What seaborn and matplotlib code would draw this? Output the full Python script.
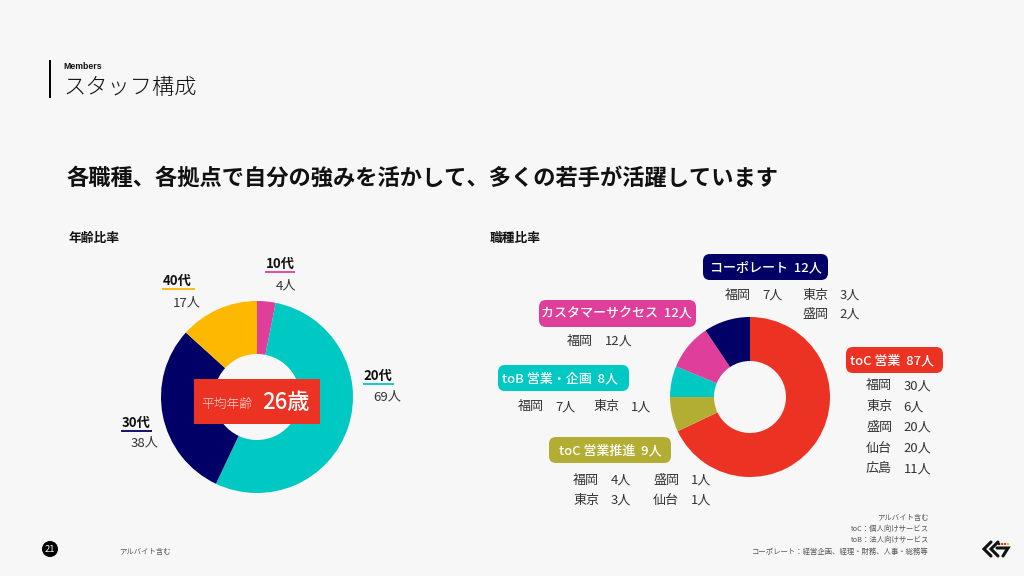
import matplotlib
matplotlib.use("Agg")
import matplotlib.pyplot as plt
from matplotlib.patches import FancyBboxPatch, Rectangle, Circle
import seaborn as sns

# -------------data-------------
age_labels = ['10代', '20代', '30代', '40代']
age_counts = [4, 69, 38, 17]
age_colors = ['#DF3E9B', '#00C8C2', '#000066', '#FDB900']

job_labels = ['toC 営業', 'toC 営業推進', 'toB 営業・企画', 'カスタマーサクセス', 'コーポレート']
job_counts = [87, 9, 8, 12, 12]
job_colors = ['#EC3323', '#B2AE34', '#00C8C2', '#DF3E9B', '#000066']

average_age = '26歳'

BG = '#F7F7F7'
TXT = '#333333'

sns.set_theme(style='white')
plt.rcParams['font.family'] = ['Noto Sans CJK JP', 'DejaVu Sans']

fig = plt.figure(figsize=(10.24, 5.76), dpi=100, facecolor=BG)

# overlay in pixel coords of the slide
bg = fig.add_axes([0, 0, 1, 1], zorder=3)
bg.set(xlim=(0, 1024), ylim=(576, 0))
bg.axis('off')


def donut(cx, cy, r, hole, values, cols):
    # axes placed so that the pie fills it exactly
    ax = fig.add_axes([(cx - r) / 1024, 1 - (cy + r) / 576, 2 * r / 1024, 2 * r / 576], zorder=1)
    ax.pie(values, colors=sns.color_palette(cols), startangle=90, counterclock=False, radius=1,
           wedgeprops=dict(width=1 - hole / r, linewidth=0))
    ax.set(xlim=(-1, 1), ylim=(-1, 1))
    return ax


def txt(x, y, s, size=9.4, color=TXT, weight='normal', ha='left', **kw):
    # CJK glyphs sit high with va=center, push down a bit
    bg.text(x, y + size * 0.15, s, fontsize=size, color=color, fontweight=weight, ha=ha, va='center', **kw)


def badge(x0, x1, y0, y1, col, label, count, shift=0):
    bg.add_patch(FancyBboxPatch((x0 + 7, y0 + 7), x1 - x0 - 14, y1 - y0 - 14,
                                boxstyle='round,pad=7,rounding_size=7', fc=col, ec='none'))
    txt((x0 + x1) / 2 + shift, (y0 + y1) / 2 - 1, label + '  ' + str(count) + '人', size=9.4, color='white',
        weight='medium', ha='center')


# -------------header-------------
bg.add_patch(Rectangle((49, 60), 2, 38, fc='black', ec='none'))
txt(63, 65.5, 'Members', size=6.3, color='#111111', weight='bold', family=['Liberation Sans', 'DejaVu Sans'])
txt(63, 86, 'スタッフ構成', size=16, color='#111111', weight='light')
txt(66, 176, '各職種、各拠点で自分の強みを活かして、多くの若手が活躍しています', size=16, color='#111111', weight='bold')
txt(69, 237, '年齢比率', size=9.2, color='#111111', weight='bold')
txt(490, 237, '職種比率', size=9.2, color='#111111', weight='bold')

# -------------left donut-------------
donut(257, 397, 96, 43, age_counts, age_colors)
bg.add_patch(Rectangle((194, 379), 126, 45, fc=job_colors[0], ec='none'))
txt(201, 403, '平均年齢', size=9.2, color='#F9D5CF', weight='light')
txt(262, 400, average_age, size=16, color='white', weight='medium')

# label x, label y, underline from, underline to, count right edge, count y
age_pos = [(280, 262, 265, 295, 296, 284), (378, 374, 363, 394, 401, 395),
           (136, 421, 121, 152, 159, 441), (177, 279, 162, 195, 201, 301)]
for lab, n, c, (x, y, u0, u1, xn, yn) in zip(age_labels, age_counts, age_colors, age_pos):
    txt(x, y, lab, size=9.5, color='#111111', weight='bold', ha='center')
    bg.plot([u0, u1], [y + 10, y + 10], color=c, lw=1.3, solid_capstyle='butt')
    txt(xn, yn, str(n) + '人', size=9.5, ha='right')

# -------------right donut-------------
donut(750, 397, 80, 36, job_counts, job_colors)

badge(846, 943, 347, 373, job_colors[0], job_labels[0], job_counts[0], shift=-2)
badge(549, 671, 437, 463, job_colors[1], job_labels[1], job_counts[1])
badge(498, 629, 365, 391, job_colors[2], job_labels[2], job_counts[2], shift=-3)
badge(539, 696, 300, 327, job_colors[3], job_labels[3], job_counts[3], shift=-1.5)
badge(703, 828, 254, 280, job_colors[4], job_labels[4], job_counts[4])

# site breakdown per job: (site, people, x of site, y)
site_rows = [
    ('福岡', '30人', 866, 384.5), ('東京', '6人', 866, 405.5), ('盛岡', '20人', 866, 426),
    ('仙台', '20人', 866, 447), ('広島', '11人', 866, 467.5),
    ('福岡', '4人', 573, 479), ('盛岡', '1人', 653, 479), ('東京', '3人', 573, 499), ('仙台', '1人', 653, 499),
    ('福岡', '7人', 518, 405.5), ('東京', '1人', 593, 405.5),
    ('福岡', '12人', 567, 340),
    ('福岡', '7人', 725, 294), ('東京', '3人', 802, 294), ('盛岡', '2人', 802, 313),
]
for site, n, x, y in site_rows:
    txt(x, y, site)
    txt(x + 37.5, y, n)

# -------------footer-------------
bg.add_patch(Circle((50, 549), 8, fc='black', ec='none'))
txt(50, 548, '21', size=6.8, color='white', ha='center')
txt(119, 551.5, 'アルバイト含む', size=5.3, color='#555555')
notes = ['アルバイト含む', 'toC：個人向けサービス', 'toB：法人向けサービス', 'コーポレート：経営企画、経理・財務、人事・総務等']
for y, s in zip([517.5, 528.5, 539.5, 551.5], notes):
    txt(929, y, s, size=5.3, color='#555555', ha='right')

# logo
bg.plot([991, 984, 991], [542, 549, 556], color='#111111', lw=2.2, solid_joinstyle='miter')
bg.plot([998, 991, 998], [542, 549, 556], color='#111111', lw=2.2, solid_joinstyle='miter')
bg.plot([997, 1008, 1003], [548, 548, 556], color='#111111', lw=2.2, solid_joinstyle='miter')
bg.scatter([999, 1002, 1005, 1008], [544, 544, 544, 544], s=3, color=['#111111', '#EC3323', '#EC3323', '#FDB900'], linewidths=0)

fig.savefig('out.png', dpi=100, facecolor=BG)
